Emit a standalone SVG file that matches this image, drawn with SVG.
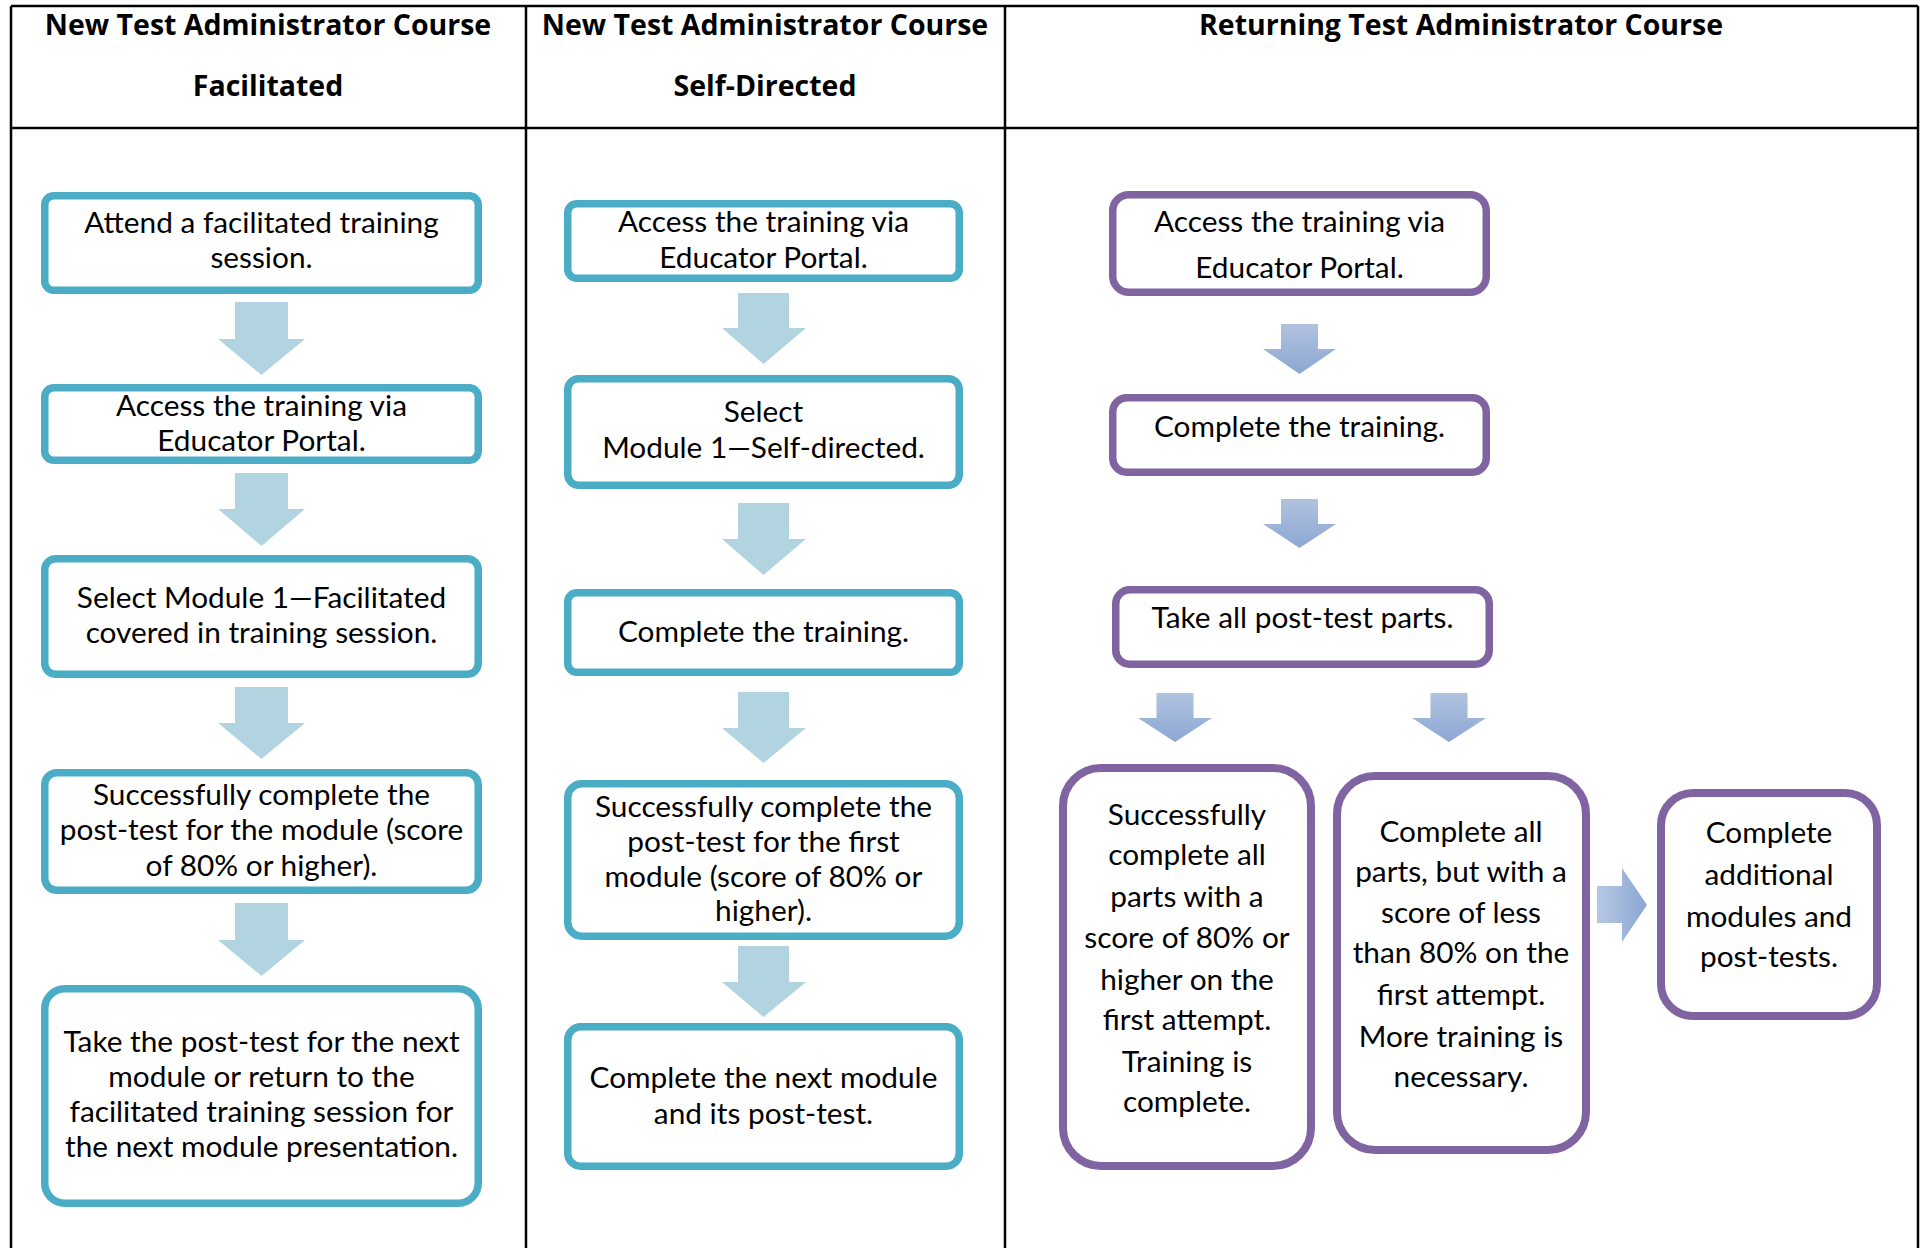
<svg xmlns="http://www.w3.org/2000/svg" width="1925" height="1248" viewBox="0 0 1925 1248">
<defs>
<style>
.tbl{stroke:#000;stroke-width:2.5;fill:none}
.hd{font-family:"Open Sans","Liberation Sans",sans-serif;font-weight:700;font-size:28.5px;text-anchor:middle;fill:#000}
.t{font-family:Lato,"Liberation Sans",sans-serif;font-size:29.8px;text-anchor:middle;fill:#000}
.teal{fill:#fff;stroke:#4BACC6;stroke-width:7.5}
.purp{fill:#fff;stroke:#8064A2;stroke-width:7.5}
.purp2{fill:#fff;stroke:#8064A2;stroke-width:8}
.arT{fill:#B1D4E0}
.arP{fill:url(#gV)}
.arR{fill:url(#gH)}
</style>
<linearGradient id="gV" x1="0" y1="0" x2="0" y2="1">
<stop offset="0" stop-color="#B1C2DE"/>
<stop offset="1" stop-color="#8CA7D4"/>
</linearGradient>
<linearGradient id="gH" x1="0" y1="0" x2="1" y2="0">
<stop offset="0" stop-color="#B8C8E2"/>
<stop offset="1" stop-color="#8AA6D4"/>
</linearGradient>
</defs>
<rect x="0" y="0" width="1925" height="1248" fill="#fff"/>
<g id="table">
<line class="tbl" x1="11" y1="6" x2="1918" y2="6"/>
<line class="tbl" x1="11" y1="128" x2="1918" y2="128"/>
<line class="tbl" x1="11" y1="6" x2="11" y2="1248"/>
<line class="tbl" x1="526" y1="6" x2="526" y2="1248"/>
<line class="tbl" x1="1005" y1="6" x2="1005" y2="1248"/>
<line class="tbl" x1="1918" y1="6" x2="1918" y2="1248"/>
<text class="hd" x="268" y="35">New Test Administrator Course</text>
<text class="hd" x="268" y="96">Facilitated</text>
<text class="hd" x="765" y="35">New Test Administrator Course</text>
<text class="hd" x="765" y="96">Self-Directed</text>
<text class="hd" x="1461" y="35">Returning Test Administrator Course</text>
</g>
<g id="connectors">
<polygon class="arT" points="235,302 288,302 288,339 305,339 261.5,375 218,339 235,339"/>
<polygon class="arT" points="235,473 288,473 288,509 305,509 261.5,546 218,509 235,509"/>
<polygon class="arT" points="235,687 288,687 288,723 305,723 261.5,759 218,723 235,723"/>
<polygon class="arT" points="235,903 288,903 288,940 305,940 261.5,976 218,940 235,940"/>
<polygon class="arT" points="738,293 789,293 789,328 806,328 763.5,364 722,328 738,328"/>
<polygon class="arT" points="738,503 789,503 789,539 806,539 763.5,575 722,539 738,539"/>
<polygon class="arT" points="738,692 789,692 789,728 806,728 763.5,763 722,728 738,728"/>
<polygon class="arT" points="738,946 789,946 789,982 806,982 763.5,1017 722,982 738,982"/>
<polygon class="arP" points="1281,324 1318,324 1318,349 1336,349 1299.5,374 1263,349 1281,349"/>
<polygon class="arP" points="1281,499 1318,499 1318,524 1336,524 1299.5,548 1263,524 1281,524"/>
<polygon class="arP" points="1156.5,693 1193.5,693 1193.5,718 1212,718 1175,742 1138,718 1156.5,718"/>
<polygon class="arP" points="1430.5,693 1467.5,693 1467.5,718 1486,718 1449,742 1412,718 1430.5,718"/>
<polygon class="arR" points="1597,886 1622,886 1622,868 1647,905 1622,942 1622,923 1597,923"/>
</g>
<g id="f1">
<rect class="teal" x="44.75" y="195.75" width="433.5" height="94.5" rx="9"/>
<text class="t" x="261.5" y="233">Attend a facilitated training</text>
<text class="t" x="261.5" y="268">session.</text>
</g>
<g id="f2">
<rect class="teal" x="44.75" y="387.75" width="433.5" height="72.5" rx="9"/>
<text class="t" x="261.5" y="416">Access the training via</text>
<text class="t" x="261.5" y="451">Educator Portal.</text>
</g>
<g id="f3">
<rect class="teal" x="44.75" y="558.75" width="433.5" height="115.5" rx="11"/>
<text class="t" x="261.5" y="608">Select Module 1—Facilitated</text>
<text class="t" x="261.5" y="643">covered in training session.</text>
</g>
<g id="f4">
<rect class="teal" x="44.75" y="772.75" width="433.5" height="117.5" rx="12"/>
<text class="t" x="261.5" y="805">Successfully complete the</text>
<text class="t" x="261.5" y="840">post-test for the module (score</text>
<text class="t" x="261.5" y="876">of 80% or higher).</text>
</g>
<g id="f5">
<rect class="teal" x="44.75" y="988.75" width="433.5" height="214.5" rx="20"/>
<text class="t" x="261.5" y="1052">Take the post-test for the next</text>
<text class="t" x="261.5" y="1087">module or return to the</text>
<text class="t" x="261.5" y="1122">facilitated training session for</text>
<text class="t" x="261.5" y="1157">the next module presentation.</text>
</g>
<g id="s1">
<rect class="teal" x="567.75" y="203.75" width="391.5" height="74.5" rx="9"/>
<text class="t" x="763.5" y="232">Access the training via</text>
<text class="t" x="763.5" y="268">Educator Portal.</text>
</g>
<g id="s2">
<rect class="teal" x="567.75" y="378.75" width="391.5" height="106.5" rx="11"/>
<text class="t" x="763.5" y="422">Select</text>
<text class="t" x="763.5" y="458">Module 1—Self-directed.</text>
</g>
<g id="s3">
<rect class="teal" x="567.75" y="592.75" width="391.5" height="79.5" rx="9"/>
<text class="t" x="763.5" y="642">Complete the training.</text>
</g>
<g id="s4">
<rect class="teal" x="567.75" y="783.75" width="391.5" height="152.5" rx="14"/>
<text class="t" x="763.5" y="817">Successfully complete the</text>
<text class="t" x="763.5" y="852">post-test for the first</text>
<text class="t" x="763.5" y="887">module (score of 80% or</text>
<text class="t" x="763.5" y="921">higher).</text>
</g>
<g id="s5">
<rect class="teal" x="567.75" y="1026.75" width="391.5" height="139.5" rx="13"/>
<text class="t" x="763.5" y="1088">Complete the next module</text>
<text class="t" x="763.5" y="1124">and its post-test.</text>
</g>
<g id="r1">
<rect class="purp" x="1112.75" y="194.75" width="373.5" height="97.5" rx="16"/>
<text class="t" x="1299.5" y="232">Access the training via</text>
<text class="t" x="1299.5" y="278">Educator Portal.</text>
</g>
<g id="r2">
<rect class="purp" x="1112.75" y="397.75" width="373.5" height="74.5" rx="14"/>
<text class="t" x="1299.5" y="437">Complete the training.</text>
</g>
<g id="r3">
<rect class="purp" x="1115.75" y="589.75" width="373.5" height="74.5" rx="14"/>
<text class="t" x="1302.5" y="628">Take all post-test parts.</text>
</g>
<g id="r4">
<rect class="purp2" x="1063" y="768" width="248" height="398" rx="38"/>
<text class="t" x="1187" y="825">Successfully</text>
<text class="t" x="1187" y="865">complete all</text>
<text class="t" x="1187" y="907">parts with a</text>
<text class="t" x="1187" y="948">score of 80% or</text>
<text class="t" x="1187" y="990">higher on the</text>
<text class="t" x="1187" y="1030">first attempt.</text>
<text class="t" x="1187" y="1072">Training is</text>
<text class="t" x="1187" y="1112">complete.</text>
</g>
<g id="r5">
<rect class="purp2" x="1337" y="776" width="249" height="374" rx="38"/>
<text class="t" x="1461" y="842">Complete all</text>
<text class="t" x="1461" y="882">parts, but with a</text>
<text class="t" x="1461" y="923">score of less</text>
<text class="t" x="1461" y="963">than 80% on the</text>
<text class="t" x="1461" y="1005">first attempt.</text>
<text class="t" x="1461" y="1047">More training is</text>
<text class="t" x="1461" y="1087">necessary.</text>
</g>
<g id="r6">
<rect class="purp2" x="1661" y="793" width="216" height="223" rx="32"/>
<text class="t" x="1769" y="843">Complete</text>
<text class="t" x="1769" y="885">additional</text>
<text class="t" x="1769" y="927">modules and</text>
<text class="t" x="1769" y="967">post-tests.</text>
</g>
</svg>
